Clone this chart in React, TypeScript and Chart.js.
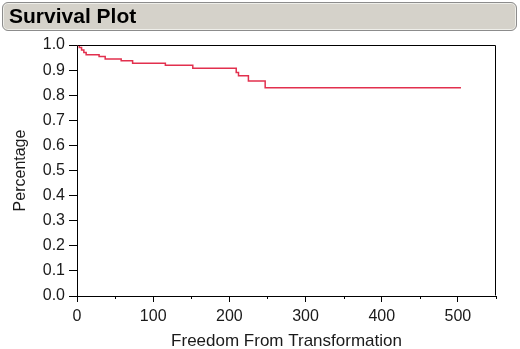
import React, { useEffect, useRef } from "react";
import { Chart, registerables } from "chart.js";

Chart.register(...registerables);

const times = [0, 3, 6, 9, 12, 29, 37, 58, 73, 116, 152, 209, 212, 225, 247, 504];
const survival = [1.0, 0.99, 0.98, 0.97, 0.961, 0.954, 0.944, 0.937, 0.927, 0.919, 0.907, 0.89, 0.877, 0.857, 0.83, 0.83];
const yTicks = [0, 0.1, 0.2, 0.3, 0.4, 0.5, 0.6, 0.7, 0.8, 0.9, 1.0];
const xMajor = [0, 100, 200, 300, 400, 500];

const FONT = "'Liberation Sans', Arial, sans-serif";

const framePlugin = {
  id: "frame",
  afterDraw(chart: any) {
    const { ctx, chartArea } = chart;
    const l = Math.round(chartArea.left) + 0.5;
    const r = Math.round(chartArea.right) - 0.5;
    const t = Math.round(chartArea.top) + 0.5;
    const b = Math.round(chartArea.bottom) - 0.5;
    ctx.save();
    ctx.strokeStyle = "#000";
    ctx.lineWidth = 1;
    ctx.beginPath();
    ctx.moveTo(l, t);
    ctx.lineTo(r, t);
    ctx.lineTo(r, b);
    ctx.stroke();
    // minor ticks on x axis
    const xs = chart.scales.x;
    ctx.beginPath();
    for (let v = 50; v <= 550; v += 100) {
      const px = Math.round(xs.getPixelForValue(v)) + 0.5;
      ctx.moveTo(px, Math.round(chartArea.bottom));
      ctx.lineTo(px, Math.round(chartArea.bottom) + 3);
    }
    ctx.stroke();
    ctx.restore();
  },
};

export default function App() {
  const ref = useRef<HTMLCanvasElement | null>(null);
  useEffect(() => {
    if (!ref.current) return;
    const chart = new Chart(ref.current, {
      type: "line",
      data: {
        datasets: [
          {
            data: times.map((t, i) => ({ x: t, y: survival[i] })),
            borderColor: "#e2304e",
            borderWidth: 1.5,
            pointRadius: 0,
            stepped: true,
            fill: false,
          },
        ],
      },
      options: {
        animation: false,
        responsive: false,
        maintainAspectRatio: false,
        layout: { padding: { top: 45, right: 24, left: 0, bottom: 0 } },
        plugins: { legend: { display: false }, tooltip: { enabled: false } },
        scales: {
          x: {
            type: "linear",
            min: 0,
            max: 550,
            afterFit: (s: any) => {
              s.height = 53;
            },
            ticks: {
              stepSize: 50,
              autoSkip: false,
              maxRotation: 0,
              padding: 5,
              color: "#1a1a1a",
              font: { family: FONT, size: 16 },
              callback: (v: any) => (xMajor.includes(Number(v)) ? String(v) : ""),
            },
            grid: {
              drawOnChartArea: false,
              tickLength: 6,
              tickColor: (c: any) => (xMajor.includes(c.tick?.value) ? "#000" : "rgba(0,0,0,0)"),
            },
            border: { display: true, color: "#000" },
            title: {
              display: true,
              text: "Freedom From Transformation",
              color: "#1a1a1a",
              font: { family: FONT, size: 17, lineHeight: 1 },
              padding: { top: 0, bottom: -1 },
            },
          },
          y: {
            type: "linear",
            min: 0,
            max: 1,
            afterFit: (s: any) => {
              s.width = 77;
            },
            afterBuildTicks: (s: any) => {
              s.ticks = yTicks.map((v) => ({ value: v }));
            },
            ticks: {
              padding: 4,
              color: "#1a1a1a",
              font: { family: FONT, size: 16 },
              callback: (v: any) => Number(v).toFixed(1),
            },
            grid: { drawOnChartArea: false, tickLength: 8, color: "#000" },
            border: { display: true, color: "#000" },
            title: {
              display: true,
              text: "Percentage",
              color: "#1a1a1a",
              font: { family: FONT, size: 16 },
              padding: { top: 11, bottom: 0 },
            },
          },
        },
      },
      plugins: [framePlugin],
    });
    return () => chart.destroy();
  }, []);

  return (
    <div style={{ position: "absolute", left: 0, top: 0, width: 520, height: 349, background: "#fff", overflow: "hidden" }}>
      <canvas ref={ref} width={520} height={349} style={{ position: "absolute", left: 0, top: 0 }} />
      <div
        style={{
          position: "absolute",
          left: 2,
          top: 2,
          width: 513,
          height: 27,
          border: "1px solid #8c8c8c",
          borderRadius: 6,
          background: "#d5d2ca",
          boxShadow: "inset 0 0 0 1px #efefea",
        }}
      />
      <span
        style={{
          position: "absolute",
          left: 9,
          top: 5,
          fontFamily: FONT,
          fontWeight: "bold",
          fontSize: 21,
          lineHeight: "21px",
          color: "#000",
          whiteSpace: "nowrap",
        }}
      >
        Survival Plot
      </span>
    </div>
  );
}
